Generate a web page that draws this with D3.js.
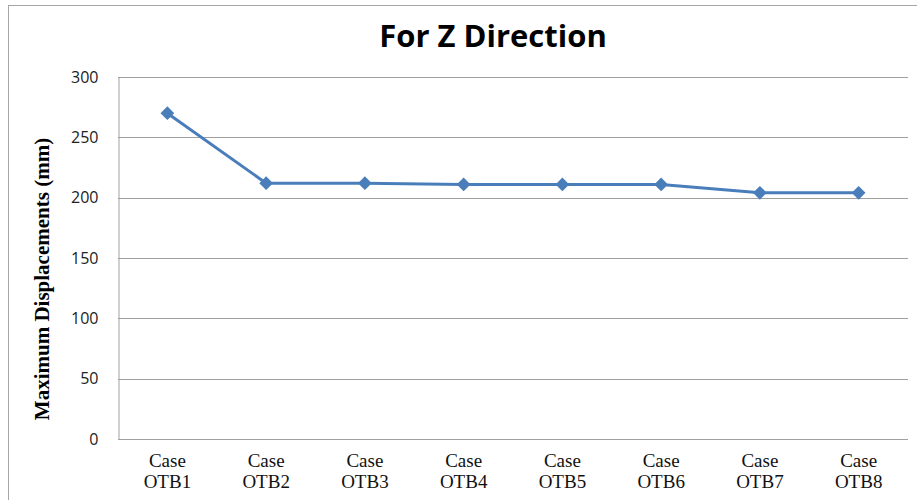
<!DOCTYPE html>
<html>
<head>
<meta charset="utf-8">
<script src="https://cdn.jsdelivr.net/npm/d3@7"></script>
<style>
  body { margin: 0; background: #fff; }
</style>
</head>
<body>
<div id="chart"></div>
<script>
const cases = ["OTB1", "OTB2", "OTB3", "OTB4", "OTB5", "OTB6", "OTB7", "OTB8"];
const displacements = [270, 212, 212, 211, 211, 211, 204, 204];
const yTicks = [0, 50, 100, 150, 200, 250, 300];

const width = 917, height = 500;
const margin = {left: 118, right: 9, top: 77, bottom: 61};

const svg = d3.select("#chart")
  .append("svg")
  .attr("width", width)
  .attr("height", height);

// outer chart frame
svg.append("rect")
  .attr("x", 8.5).attr("y", 5.5)
  .attr("width", width).attr("height", height)
  .attr("fill", "none")
  .attr("stroke", "#a6a6a6")
  .attr("stroke-width", 1);

const x = d3.scalePoint()
  .domain(cases)
  .range([margin.left, width - margin.right])
  .padding(0.5);

const y = d3.scaleLinear()
  .domain([0, 300])
  .range([height - margin.bottom, margin.top]);

// gridlines
svg.append("g")
  .selectAll("line")
  .data(yTicks.filter(t => t > 0))
  .join("line")
  .attr("x1", margin.left)
  .attr("x2", width - margin.right)
  .attr("y1", d => Math.round(y(d)) + 0.5)
  .attr("y2", d => Math.round(y(d)) + 0.5)
  .attr("stroke", "#a0a0a0")
  .attr("stroke-width", 1);

// y axis
const yAxis = svg.append("g")
  .attr("transform", `translate(${margin.left + 0.5},0)`)
  .call(d3.axisLeft(y).tickValues(yTicks).tickSize(0).tickPadding(20));
yAxis.select(".domain").attr("stroke", "#a0a0a0");
yAxis.selectAll("text")
  .attr("font-family", "'Open Sans', sans-serif")
  .attr("font-size", "16px")
  .attr("fill", "#222");

// x axis
const xAxis = svg.append("g")
  .attr("transform", `translate(0,${Math.round(y(0)) + 0.5})`)
  .call(d3.axisBottom(x).tickSize(0).tickFormat(""));
xAxis.select(".domain")
  .attr("stroke", "#a0a0a0")
  .attr("d", `M${margin.left},0H${width - margin.right}`);

const xLabels = svg.append("g")
  .selectAll("text")
  .data(cases)
  .join("text")
  .attr("x", d => x(d))
  .attr("y", 467)
  .attr("text-anchor", "middle")
  .attr("font-family", "'Liberation Serif', 'Times New Roman', serif")
  .attr("font-size", "19px")
  .attr("fill", "#111");
xLabels.append("tspan").attr("x", d => x(d)).text("Case");
xLabels.append("tspan").attr("x", d => x(d)).attr("dy", 21).text(d => d);

// line
const line = d3.line()
  .x((d, i) => x(cases[i]))
  .y(d => y(d));

svg.append("path")
  .datum(displacements)
  .attr("d", line)
  .attr("fill", "none")
  .attr("stroke", "#4a7ebb")
  .attr("stroke-width", 3)
  .attr("stroke-linejoin", "round");

svg.append("g")
  .selectAll("path")
  .data(displacements)
  .join("path")
  .attr("d", d3.symbol().type(d3.symbolDiamond2).size(120))
  .attr("transform", (d, i) => `translate(${x(cases[i])},${y(d)})`)
  .attr("fill", "#4a7ebb");

// title
svg.append("text")
  .attr("x", 493)
  .attr("y", 47)
  .attr("text-anchor", "middle")
  .attr("font-family", "'Open Sans', sans-serif")
  .attr("font-weight", "bold")
  .attr("font-size", "31px")
  .attr("fill", "#000")
  .text("For Z Direction");

// y axis title
svg.append("text")
  .attr("transform", "translate(49,279) rotate(-90)")
  .attr("text-anchor", "middle")
  .attr("font-family", "'Liberation Serif', 'Times New Roman', serif")
  .attr("font-weight", "bold")
  .attr("font-size", "21px")
  .attr("fill", "#000")
  .text("Maximum Displacements (mm)");
</script>
</body>
</html>
